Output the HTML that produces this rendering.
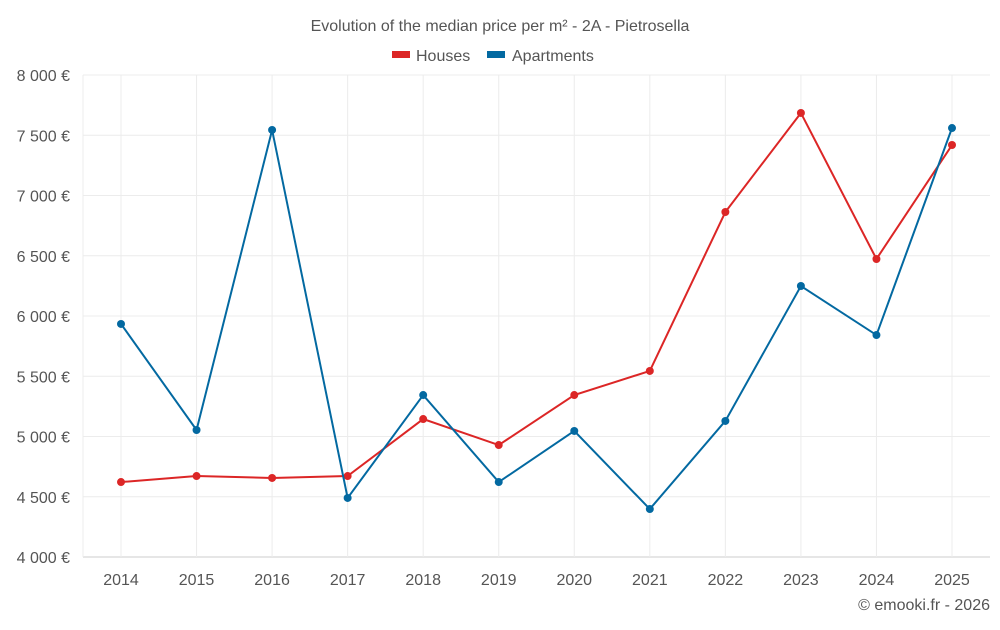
<!DOCTYPE html>
<html><head><meta charset="utf-8"><style>
body{margin:0;background:#fff;font-family:"Liberation Sans",sans-serif;}
svg text{font-family:"Liberation Sans",sans-serif;}
</style></head><body>
<svg id="c" width="1000" height="625">
<text x="500" y="31" text-anchor="middle" font-size="16" fill="#555">Evolution of the median price per m² - 2A - Pietrosella</text>
<g>
<g><rect x="392" y="51" width="18" height="7" fill="#dc2626"/><text x="416" y="61" font-size="16" fill="#555">Houses</text></g>
<g><rect x="487" y="51" width="18" height="7" fill="#0369a1"/><text x="512" y="61" font-size="16" fill="#555">Apartments</text></g>
</g>
<g id="grid"></g><g id="axes"></g><g id="series"></g>
<text x="990" y="610" text-anchor="end" font-size="16" fill="#555">© emooki.fr - 2026</text>
</svg>
<script>
const years=[2014,2015,2016,2017,2018,2019,2020,2021,2022,2023,2024,2025];
const houses=[4622,4672,4656,4672,5145,4929,5344,5544,6863,7685,6473,7419];
const apartments=[5934,5054,7544,4490,5344,4622,5046,4398,5129,6249,5842,7560];
const yTicks=[4000,4500,5000,5500,6000,6500,7000,7500,8000];
const yTickLabels=["4 000 €","4 500 €","5 000 €","5 500 €","6 000 €","6 500 €","7 000 €","7 500 €","8 000 €"];
const L=83,R=990,T=75,B=557;
const x=i=>121+i*(952-121)/(years.length-1);
const y=v=>B-(v-4000)/4000*(B-T);
const ns="http://www.w3.org/2000/svg";
function mk(p,t,a){const e=document.createElementNS(ns,t);for(const k in a)e.setAttribute(k,a[k]);p.appendChild(e);return e;}
const g=document.getElementById('grid'),ax=document.getElementById('axes'),s=document.getElementById('series');
yTicks.forEach((v,i)=>{
 const l=mk(g,'line',{x1:L,x2:R,y1:y(v),y2:y(v),stroke:i==0?'#ccc':'#ececec'});
 
 
 const t=mk(ax,'text',{x:70,y:y(v)+6,'text-anchor':'end','font-size':16,fill:'#555'});
 t.textContent=yTickLabels[i];
 
 
});
years.forEach((yr,i)=>{
 const l=mk(g,'line',{x1:x(i),x2:x(i),y1:T,y2:B,stroke:'#ececec'});
 
 
 const t=mk(ax,'text',{x:x(i),y:585,'text-anchor':'middle','font-size':16,fill:'#555'});
 t.textContent=yr;
 
 
});
mk(g,'line',{x1:L,x2:L,y1:T,y2:B,stroke:'#ececec'});
function draw(data,col,name){
 const p=mk(s,'polyline',{points:data.map((v,i)=>x(i)+','+y(v)).join(' '),fill:'none',stroke:col,'stroke-width':2});
 
 
 data.forEach((v,i)=>{
  const c=mk(s,'circle',{cx:x(i),cy:y(v),r:4,fill:col});
  
  
 });
}
draw(houses,'#dc2626','houses');
draw(apartments,'#0369a1','apartments');
</script>
</body></html>
